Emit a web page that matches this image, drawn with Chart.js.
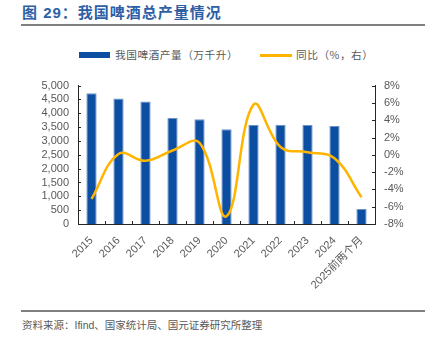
<!DOCTYPE html>
<html>
<head>
<meta charset="utf-8">
<script src="https://cdn.jsdelivr.net/npm/chart.js@4"></script>
<style>
  body { margin: 0; width: 436px; height: 337px; background: #fff; position: relative; overflow: hidden;
         font-family: "Liberation Sans", "Noto Sans CJK SC", sans-serif; }
  .titulo { position: absolute; left: 22px; top: 3px; font-size: 15px; font-weight: bold; color: #2e5fa6; letter-spacing: 1px;
            font-family: "Liberation Sans", "Noto Sans CJK SC", sans-serif; line-height: 20px; white-space: nowrap; }
  .regla { position: absolute; left: 21px; width: 404px; height: 2px; background: #808080; }
  .leyenda { position: absolute; top: 48px; font-size: 10.7px; color: #595959; line-height: 14px; white-space: nowrap; letter-spacing: 0.5px;
             font-family: "Noto Sans CJK SC", sans-serif; }
  .caja { position: absolute; left: 79px; top: 52px; width: 31px; height: 6px; background: #0b4ea2; }
  .linea { position: absolute; left: 260px; top: 54px; width: 32px; height: 2.5px; background: #ffb400; }
  .fuente { position: absolute; left: 22px; top: 318px; font-size: 10.5px; color: #595959; line-height: 14px; white-space: nowrap;
            font-family: "Liberation Sans", "Noto Sans CJK SC", sans-serif; }
  canvas { position: absolute; left: 0; top: 70px; }
</style>
</head>
<body>
<div class="titulo">图 29：我国啤酒总产量情况</div>
<div class="regla" style="top:24px"></div>
<div class="caja"></div>
<div class="leyenda" style="left:115px">我国啤酒产量（万千升）</div>
<div class="linea"></div>
<div class="leyenda" style="left:296px">同比（%，右）</div>
<canvas id="grafica" width="436" height="240"></canvas>
<div class="regla" style="top:310px; height:1.5px"></div>
<div class="fuente">资料来源：Ifind、国家统计局、国元证券研究所整理</div>

<script>
const categorias = ["2015", "2016", "2017", "2018", "2019", "2020", "2021", "2022", "2023", "2024", "2025前两个月"];
const produccion = [4720, 4530, 4430, 3830, 3780, 3420, 3580, 3590, 3580, 3540, 545];
const variacion = [-5.1, 0.1, -0.7, 0.5, 1.4, -7.1, 5.8, 0.9, 0.3, -0.4, -4.9];
const ticksIzq = { min: 0, max: 5000, paso: 500 };
const ticksDer = { min: -8, max: 8, paso: 2 };

const fuenteEjes = { family: "'Liberation Sans', 'Noto Sans CJK SC', sans-serif", size: 11 };
const grisTexto = "#595959";
const colorEje = "#262626";

// marcas cortas hacia dentro en los tres ejes
const marcasInternas = {
  id: "marcasInternas",
  afterDraw(chart) {
    const ctx = chart.ctx;
    const { x, y, y1 } = chart.scales;
    const area = chart.chartArea;
    ctx.save();
    ctx.strokeStyle = colorEje;
    ctx.lineWidth = 1;
    ctx.beginPath();
    y.ticks.forEach(t => {
      const py = Math.round(y.getPixelForValue(t.value)) + 0.5;
      ctx.moveTo(area.left, py); ctx.lineTo(area.left + 3, py);
    });
    y1.ticks.forEach(t => {
      const py = Math.round(y1.getPixelForValue(t.value)) + 0.5;
      ctx.moveTo(area.right, py); ctx.lineTo(area.right - 3, py);
    });
    for (let i = 0; i < categorias.length - 1; i++) {
      const px = Math.round((x.getPixelForTick(i) + x.getPixelForTick(i + 1)) / 2) + 0.5;
      ctx.moveTo(px, area.bottom); ctx.lineTo(px, area.bottom - 3);
    }
    ctx.stroke();
    ctx.restore();
  }
};

new Chart(document.getElementById("grafica").getContext("2d"), {
  type: "bar",
  data: {
    labels: categorias,
    datasets: [
      {
        type: "line",
        label: "同比（%，右）",
        data: variacion,
        yAxisID: "y1",
        borderColor: "#ffb400",
        borderWidth: 2.5,
        pointRadius: 0,
        tension: 0.4,
        order: 0
      },
      {
        label: "我国啤酒产量（万千升）",
        data: produccion,
        yAxisID: "y",
        backgroundColor: "#0b4ea2",
        borderColor: "#6c93c8",
        borderWidth: { left: 1, right: 1, top: 1, bottom: 0 },
        barPercentage: 0.38,
        categoryPercentage: 1,
        order: 1
      }
    ]
  },
  options: {
    responsive: false,
    animation: false,
    devicePixelRatio: 1,
    layout: { padding: { top: 15, left: 0, right: 0, bottom: 0 } },
    plugins: { legend: { display: false }, tooltip: { enabled: false } },
    scales: {
      x: {
        offset: true,
        grid: { display: false },
        border: { display: true, color: colorEje, width: 1 },
        ticks: { autoSkip: false, maxRotation: 45, minRotation: 45, font: fuenteEjes, color: grisTexto, padding: 2 },
        afterFit(s) { s.height = 86; }
      },
      y: {
        position: "left",
        min: ticksIzq.min, max: ticksIzq.max,
        grid: { display: false, drawTicks: false },
        border: { display: true, color: colorEje, width: 1 },
        ticks: { autoSkip: false, stepSize: ticksIzq.paso, font: fuenteEjes, color: grisTexto, padding: 9,
                 callback: v => v.toLocaleString("en-US") },
        afterFit(s) { s.width = 78; }
      },
      y1: {
        position: "right",
        min: ticksDer.min, max: ticksDer.max,
        grid: { display: false, drawTicks: false },
        border: { display: true, color: colorEje, width: 1 },
        ticks: { autoSkip: false, stepSize: ticksDer.paso, font: fuenteEjes, color: grisTexto, padding: 9,
                 callback: v => v + "%" },
        afterFit(s) { s.width = 61; }
      }
    }
  },
  plugins: [marcasInternas]
});
</script>
</body>
</html>
